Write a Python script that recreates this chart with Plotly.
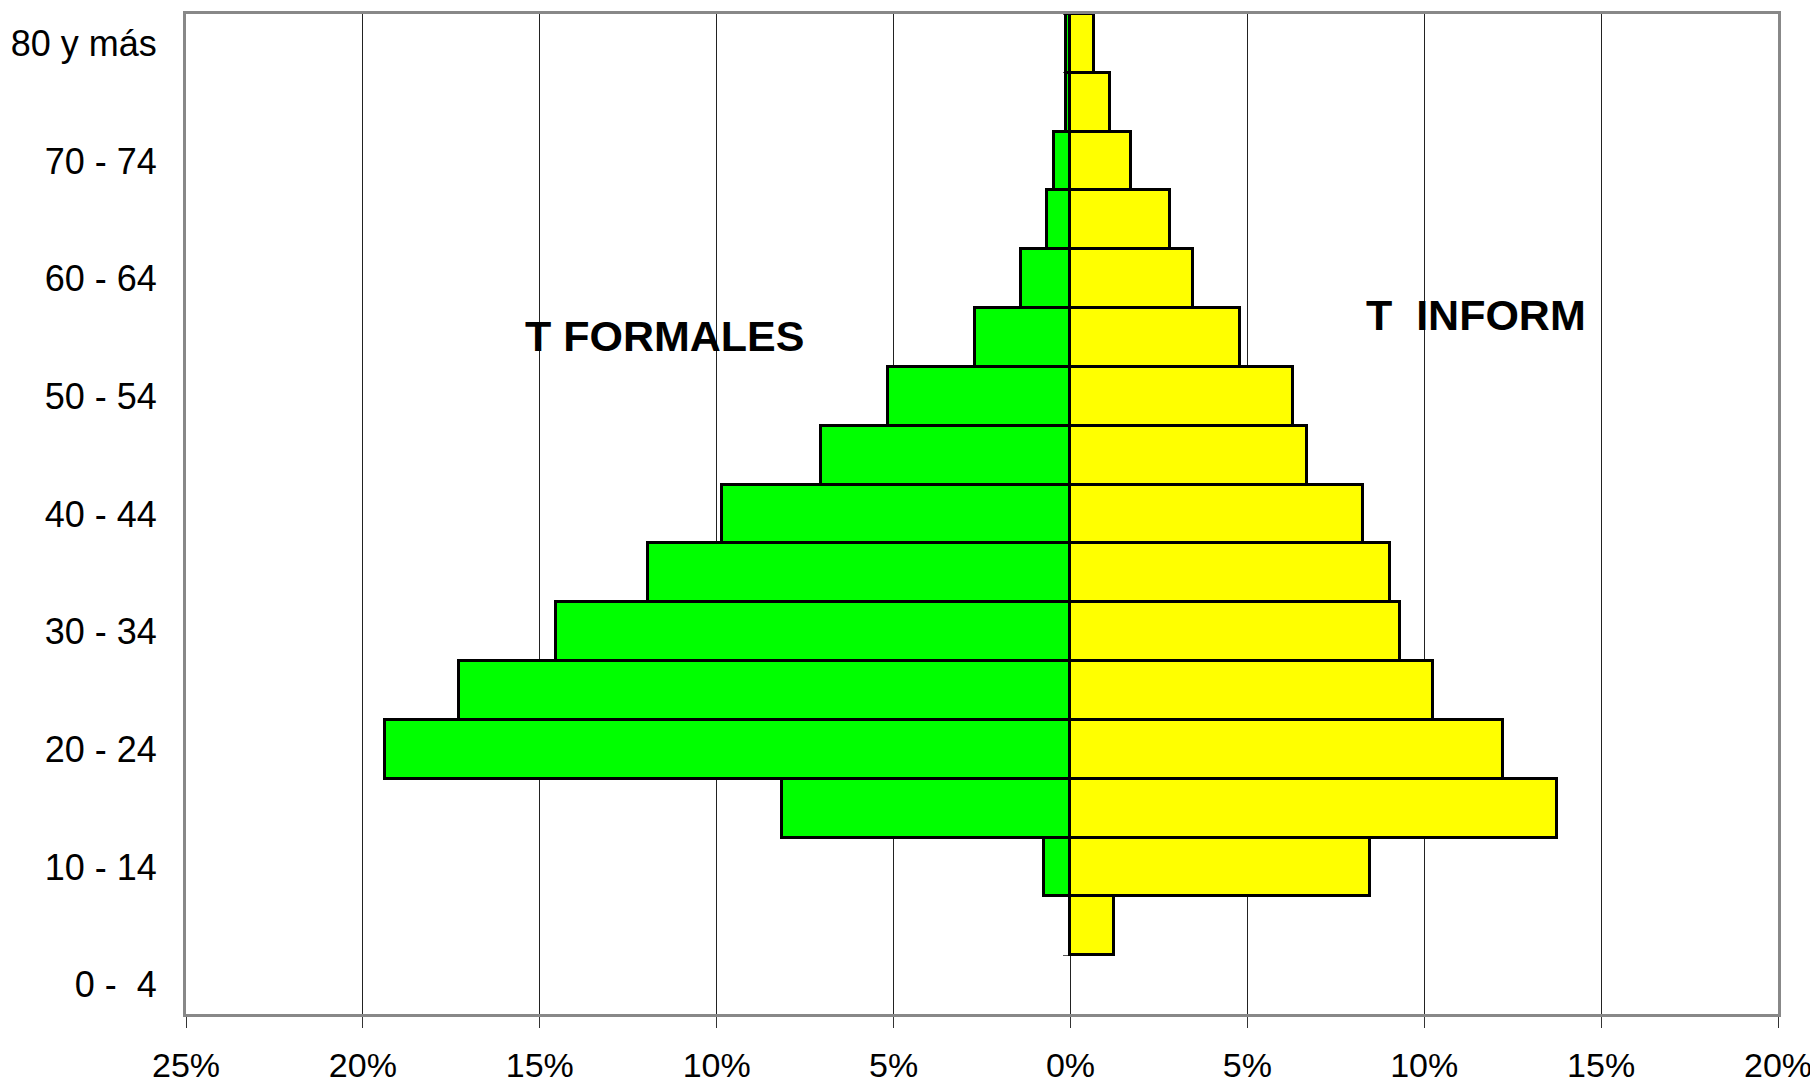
import plotly.graph_objects as go

# Age groups, bottom to top
age_groups = ['0 -  4', '5 - 9', '10 - 14', '15 - 19', '20 - 24', '25 - 29', '30 - 34',
              '35 - 39', '40 - 44', '45 - 49', '50 - 54', '55 - 59', '60 - 64',
              '65 - 69', '70 - 74', '75 - 79', '80 y más']

# Percent of workers per age group (formal shown to the left)
formales = [None, 0.0, 0.75, 8.15, 19.37, 17.27, 14.55, 11.93, 9.86, 7.04,
            5.17, 2.71, 1.39, 0.66, 0.47, 0.12, 0.12]
informales = [None, 1.22, 8.46, 13.74, 12.23, 10.26, 9.31, 9.02, 8.27, 6.69,
              6.30, 4.79, 3.47, 2.81, 1.70, 1.13, 0.66]

x_ticks = [-25, -20, -15, -10, -5, 0, 5, 10, 15, 20]
x_tick_text = ['25%', '20%', '15%', '10%', '5%', '0%', '5%', '10%', '15%', '20%']

font_family = 'Liberation Sans, Arial, sans-serif'

fig = go.Figure()

fig.add_trace(go.Bar(
    y=age_groups,
    x=[None if v is None else -v for v in formales],
    orientation='h',
    name='T FORMALES',
    marker=dict(color='#00FF00', line=dict(color='#000000', width=3)),
))
fig.add_trace(go.Bar(
    y=age_groups,
    x=informales,
    orientation='h',
    name='T INFORM',
    marker=dict(color='#FFFF00', line=dict(color='#000000', width=3)),
))

# invisible trace so the secondary (centre) axis gets drawn
fig.add_trace(go.Scatter(x=[None], y=[None], yaxis='y2', showlegend=False,
                         hoverinfo='skip'))

# page body adds an 8px offset, so the figure is a bit smaller than the window
fig.update_layout(
    width=1810,
    height=1075,
    margin=dict(l=178, r=40, t=6, b=69),
    paper_bgcolor='white',
    plot_bgcolor='white',
    barmode='overlay',
    bargap=0,
    showlegend=False,
    font=dict(family=font_family, color='black', size=32),
    xaxis=dict(
        range=[-25, 20],
        tickvals=x_ticks,
        ticktext=x_tick_text,
        showgrid=True,
        gridcolor='#222222',
        gridwidth=1,
        zeroline=False,
        showline=True,
        mirror=True,
        linecolor='#888888',
        linewidth=3,
        ticks='outside',
        ticklen=11,
        tickcolor='#333333',
        tickfont=dict(size=34),
        ticklabelstandoff=8,
        automargin=False,
    ),
    yaxis=dict(
        type='category',
        categoryorder='array',
        categoryarray=age_groups,
        range=[-0.5, 16.5],
        tickvals=age_groups[::2],
        ticktext=age_groups[::2],
        showgrid=False,
        zeroline=False,
        showline=True,
        mirror=True,
        linecolor='#888888',
        linewidth=3,
        ticks='',
        tickfont=dict(size=36),
        ticklabelstandoff=19,
        automargin=False,
    ),
    yaxis2=dict(
        overlaying='y',
        anchor='free',
        position=25 / 45,
        range=[-0.5, 16.5],
        tickvals=[k + 0.5 for k in range(-1, 17)],
        showticklabels=False,
        ticks='outside',
        ticklen=7,
        tickcolor='#555555',
        showgrid=False,
        zeroline=False,
        showline=False,
        layer='below traces',
        automargin=False,
    ),
    annotations=[
        dict(text='<b>T FORMALES</b>', xref='paper', yref='paper',
             x=0.3003, y=0.678, xanchor='center', yanchor='middle',
             showarrow=False,
             font=dict(size=43, family=font_family, color='black')),
        dict(text='<b>T  INFORM</b>', xref='paper', yref='paper',
             x=0.8106, y=0.699, xanchor='center', yanchor='middle',
             showarrow=False,
             font=dict(size=43, family=font_family, color='black')),
    ],
)

fig.write_html('out.html')
